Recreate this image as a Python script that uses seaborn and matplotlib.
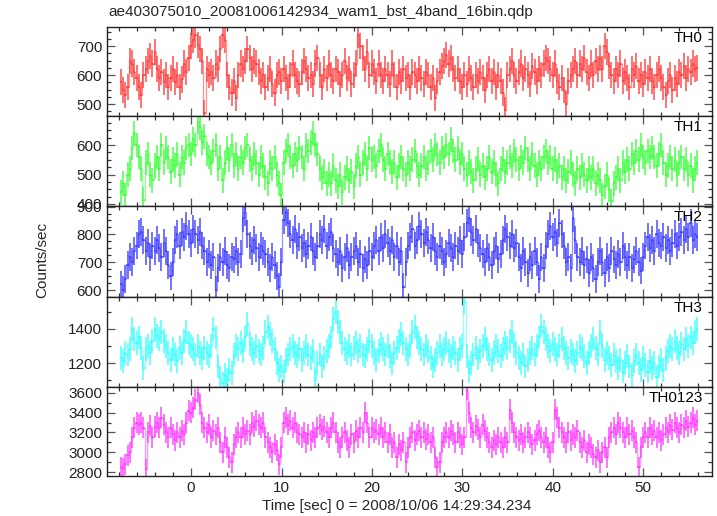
import numpy as np
import pandas as pd
import matplotlib
matplotlib.use("Agg")
import matplotlib.pyplot as plt
import seaborn as sns
from matplotlib.ticker import MultipleLocator

# ---------------- data ----------------
t_start = -7.9          # left edge of the first bin [sec]
bin_width = 0.25        # bin width [sec]

title = "ae403075010_20081006142934_wam1_bst_4band_16bin.qdp"
panel_names = ["TH0", "TH1", "TH2", "TH3", "TH0123"]
x_label = "Time [sec] 0 = 2008/10/06 14:29:34.234"
y_label = "Counts/sec"

th0 = [575, 548, 530, 560, 650, 640, 610, 590, 560, 530, 600, 620, 650, 665, 640, 680,
       620, 590, 610, 575, 600, 560, 590, 620, 575, 600, 560, 585, 640, 610, 660, 700,
       720, 740, 705, 690, 650, 470, 620, 600, 610, 590, 640, 620, 690, 740, 720, 600,
       560, 540, 580, 520, 600, 640, 620, 650, 690, 660, 620, 650, 640, 610, 580, 600,
       560, 590, 620, 570, 540, 600, 610, 580, 620, 590, 560, 600, 640, 600, 580, 570,
       610, 650, 620, 590, 600, 570, 640, 660, 600, 560, 620, 590, 640, 600, 580, 620,
       610, 570, 600, 650, 590, 620, 570, 600, 640, 740, 700, 660, 620, 680, 600, 640,
       610, 580, 640, 600, 580, 620, 600, 570, 640, 600, 560, 610, 580, 620, 590, 600,
       560, 610, 600, 580, 620, 590, 570, 610, 600, 560, 590, 520, 580, 610, 630, 650,
       670, 640, 660, 620, 590, 620, 580, 560, 600, 570, 620, 590, 560, 600, 580, 610,
       590, 550, 600, 620, 580, 610, 560, 600, 580, 540, 480, 600, 620, 650, 600, 580,
       610, 640, 590, 620, 600, 570, 630, 610, 580, 620, 600, 640, 660, 650, 620, 600,
       640, 580, 560, 590, 550, 500, 580, 600, 620, 650, 600, 640, 620, 660, 610, 590,
       640, 600, 650, 620, 660, 620, 700, 680, 630, 600, 580, 620, 600, 640, 580, 610,
       590, 560, 620, 600, 630, 580, 600, 570, 610, 590, 620, 580, 560, 600, 620, 590,
       560, 530, 580, 600, 550, 590, 570, 610, 600, 630, 590, 620, 610, 640, 620, 625]

th1 = [440, 470, 430, 500, 520, 590, 640, 600, 560, 520, 415, 540, 570, 500, 480, 530,
       560, 520, 600, 540, 590, 560, 510, 550, 530, 570, 500, 560, 540, 590, 600, 570,
       620, 600, 680, 660, 610, 630, 570, 560, 540, 580, 600, 520, 560, 480, 540, 590,
       550, 600, 530, 570, 520, 560, 540, 590, 600, 550, 520, 570, 540, 500, 560, 530,
       490, 470, 540, 520, 560, 500, 470, 430, 540, 580, 600, 560, 530, 570, 550, 590,
       560, 520, 600, 580, 610, 640, 600, 570, 520, 490, 510, 470, 500, 470, 530, 480,
       460, 500, 440, 490, 520, 480, 510, 460, 530, 560, 500, 540, 570, 520, 590, 550,
       560, 530, 580, 600, 550, 520, 570, 540, 510, 540, 490, 530, 560, 520, 500, 540,
       520, 550, 580, 530, 500, 530, 560, 520, 540, 580, 550, 600, 570, 540, 590, 560,
       600, 570, 620, 580, 550, 590, 540, 570, 520, 500, 540, 510, 480, 520, 550, 500,
       530, 490, 520, 560, 510, 540, 500, 470, 520, 550, 510, 540, 560, 530, 580, 550,
       520, 560, 540, 590, 550, 520, 570, 530, 500, 540, 520, 560, 580, 540, 560, 520,
       550, 510, 530, 490, 520, 480, 510, 540, 500, 470, 520, 490, 530, 500, 480, 520,
       490, 520, 470, 500, 480, 430, 460, 500, 450, 410, 470, 490, 520, 480, 540, 510,
       550, 520, 570, 540, 580, 550, 600, 560, 540, 580, 560, 590, 560, 530, 570, 600,
       540, 500, 530, 560, 520, 550, 500, 540, 560, 520, 550, 500, 530, 480, 520, 540]

th2 = [620, 600, 640, 690, 720, 700, 740, 760, 800, 810, 780, 740, 770, 720, 760, 740,
       780, 750, 720, 770, 740, 690, 650, 700, 780, 800, 760, 810, 790, 830, 800, 770,
       820, 800, 780, 810, 760, 740, 700, 730, 690, 720, 600, 680, 720, 700, 740, 690,
       680, 720, 710, 740, 700, 730, 860, 880, 800, 760, 740, 780, 750, 720, 760, 740,
       730, 700, 680, 720, 690, 650, 610, 700, 850, 880, 840, 800, 780, 820, 760, 790,
       750, 770, 730, 760, 790, 740, 720, 760, 800, 780, 820, 760, 790, 810, 750, 730,
       700, 740, 680, 720, 750, 690, 720, 740, 760, 700, 730, 680, 710, 690, 740, 720,
       760, 780, 740, 790, 750, 800, 770, 740, 780, 720, 760, 700, 740, 610, 700, 760,
       790, 820, 760, 780, 830, 800, 770, 810, 780, 750, 790, 740, 720, 760, 740, 700,
       730, 770, 750, 720, 760, 740, 780, 730, 790, 840, 860, 810, 780, 820, 770, 750,
       730, 700, 750, 720, 690, 740, 760, 710, 730, 780, 820, 790, 760, 800, 750, 770,
       720, 680, 740, 700, 660, 720, 690, 740, 700, 640, 720, 680, 760, 800, 830, 790,
       810, 770, 840, 800, 760, 700, 720, 680, 860, 780, 720, 700, 740, 690, 710, 660,
       720, 680, 640, 700, 740, 700, 660, 720, 680, 740, 710, 690, 730, 700, 760, 720,
       690, 720, 680, 710, 740, 700, 670, 720, 760, 790, 750, 780, 740, 800, 770, 760,
       790, 750, 780, 740, 770, 800, 760, 790, 810, 780, 820, 790, 840, 780, 800, 790]

th3 = [1230, 1210, 1260, 1250, 1280, 1400, 1340, 1320, 1350, 1290, 1170, 1280, 1300, 1260, 1330, 1400,
       1360, 1340, 1380, 1330, 1300, 1260, 1220, 1280, 1250, 1210, 1290, 1260, 1330, 1380, 1320, 1300,
       1280, 1250, 1300, 1260, 1230, 1290, 1260, 1240, 1300, 1400, 1350, 1180, 1110, 1080, 1130, 1100,
       1160, 1140, 1250, 1300, 1280, 1320, 1270, 1350, 1430, 1310, 1280, 1260, 1300, 1270, 1250, 1290,
       1380, 1410, 1370, 1330, 1280, 1200, 1160, 1180, 1150, 1220, 1250, 1280, 1300, 1260, 1240, 1280,
       1220, 1260, 1300, 1250, 1230, 1270, 1100, 1200, 1250, 1180, 1230, 1270, 1300, 1350, 1460, 1500,
       1440, 1380, 1320, 1280, 1260, 1300, 1250, 1290, 1320, 1270, 1300, 1250, 1240, 1280, 1330, 1300,
       1260, 1220, 1270, 1310, 1280, 1250, 1300, 1240, 1200, 1260, 1290, 1330, 1370, 1320, 1280, 1250,
       1300, 1380, 1410, 1350, 1320, 1280, 1250, 1300, 1270, 1230, 1180, 1220, 1260, 1300, 1250, 1280,
       1320, 1270, 1240, 1290, 1260, 1220, 1280, 1300, 1560, 1240, 1150, 1200, 1250, 1290, 1230, 1270,
       1300, 1340, 1280, 1250, 1220, 1260, 1300, 1270, 1240, 1280, 1320, 1290, 1330, 1380, 1300, 1260,
       1230, 1200, 1250, 1180, 1220, 1260, 1290, 1250, 1300, 1350, 1420, 1380, 1340, 1300, 1270, 1310,
       1280, 1250, 1300, 1340, 1290, 1260, 1230, 1270, 1250, 1210, 1260, 1300, 1280, 1240, 1200, 1260,
       1300, 1340, 1290, 1250, 1380, 1300, 1220, 1260, 1230, 1190, 1250, 1210, 1170, 1220, 1150, 1200,
       1240, 1180, 1130, 1210, 1250, 1200, 1160, 1230, 1190, 1150, 1210, 1170, 1200, 1120, 1180, 1220,
       1160, 1230, 1270, 1300, 1280, 1330, 1290, 1260, 1310, 1280, 1340, 1300, 1350, 1320, 1380, 1400]

th0123 = [2850, 2840, 2880, 2970, 3000, 3150, 3250, 3300, 3280, 3300, 3250, 2830, 3200, 3270, 3150, 3260,
          3300, 3250, 3350, 3280, 3200, 3150, 3250, 3180, 3120, 3200, 3150, 3220, 3180, 3300, 3420, 3400,
          3450, 3530, 3600, 3480, 3300, 3250, 3200, 3280, 3150, 3220, 3180, 3250, 3100, 3000, 3150, 3050,
          2950, 2900, 3080, 3150, 3200, 3150, 3250, 3180, 3220, 3180, 3300, 3260, 3320, 3280, 3250, 3300,
          3150, 3100, 3050, 3000, 3080, 3020, 2880, 3050, 3300, 3350, 3280, 3320, 3250, 3300, 3200, 3180,
          3150, 3200, 3100, 3180, 3120, 3200, 3150, 3250, 3280, 3230, 3260, 3200, 3150, 3250, 3300, 3200,
          3100, 3050, 3150, 3200, 3120, 3050, 3180, 3100, 3220, 3150, 3250, 3200, 3400, 3300, 3150, 3250,
          3200, 3230, 3180, 3250, 3150, 3200, 3100, 3180, 3050, 3100, 2950, 3080, 3020, 3100, 2900, 3050,
          3150, 3200, 3120, 3180, 3220, 3150, 3200, 3130, 3180, 3100, 3150, 2950, 2850, 2900, 3100, 3150,
          3200, 3150, 3220, 3180, 3100, 3200, 3150, 3080, 3150, 3630, 3400, 3250, 3200, 3270, 3230, 3150,
          3280, 3220, 3150, 3100, 3050, 3120, 3080, 3150, 3100, 3050, 3150, 3100, 3430, 3300, 3200, 3150,
          3120, 3180, 3100, 3150, 3200, 3150, 3080, 3120, 3180, 3220, 3150, 3100, 3150, 3050, 3000, 3100,
          3430, 3350, 3250, 3200, 3150, 3100, 3200, 3120, 3180, 3150, 3220, 3100, 3050, 3120, 3000, 3080,
          3050, 2980, 2950, 3020, 2900, 3000, 3050, 2950, 3150, 3200, 3250, 3180, 3300, 3250, 3200, 3150,
          3250, 3180, 3220, 3150, 3100, 2850, 3050, 3150, 3200, 3150, 3250, 3180, 3220, 3150, 3200, 3120,
          3180, 3250, 3200, 3280, 3230, 3300, 3250, 3200, 3280, 3250, 3320, 3260, 3300, 3350, 3280, 3320]

series = [th0, th1, th2, th3, th0123]
errors = [45, 42, 50, 70, 105]                         # 1-sigma half-lengths of the error bars
colors = ["#ff3a3a", "#3aff3a", "#3a3aff", "#3affff", "#ff3aff"]
ylims = [(459, 766), (393, 699), (575, 902), (1059, 1588), (2760, 3660)]
y_major = [100, 100, 100, 200, 200]
y_minor = [25, 25, 25, 100, 100]

# ---------------- figure ----------------
sns.set_theme(style="ticks")
plt.rcParams['font.family'] = ['Liberation Sans', 'DejaVu Sans']

W, H = 717, 516
fig = plt.figure(figsize=(W / 100, H / 100), dpi=100)

left_px, right_px = 107, 712
edges_px = [27, 116, 206, 297, 387, 476]

for i, (name, vals) in enumerate(zip(panel_names, series)):
    top_px, bot_px = edges_px[i], edges_px[i + 1]
    ax = fig.add_axes([left_px / W, 1 - bot_px / H,
                       (right_px - left_px) / W, (bot_px - top_px) / H])
    n = len(vals)
    t = t_start + bin_width * (np.arange(n) + 0.5)
    df = pd.DataFrame({"time": t, "rate": vals})

    sns.lineplot(data=df, x="time", y="rate", drawstyle="steps-mid",
                 color=colors[i], lw=0.9, alpha=0.55, ax=ax)
    ax.errorbar(df["time"], df["rate"], xerr=bin_width / 2, yerr=errors[i],
                fmt="none", ecolor=colors[i], elinewidth=1.1, capsize=0, alpha=0.9)

    ax.set_xlim(-9.3, 57.6)
    ax.set_ylim(*ylims[i])
    ax.xaxis.set_major_locator(MultipleLocator(10))
    ax.xaxis.set_minor_locator(MultipleLocator(2))
    ax.yaxis.set_major_locator(MultipleLocator(y_major[i]))
    ax.yaxis.set_minor_locator(MultipleLocator(y_minor[i]))
    ax.tick_params(which="both", direction="in", top=True, right=True,
                   labelsize=11, colors="#222222", width=0.9)
    ax.tick_params(which="major", length=6, color="#555555")
    ax.tick_params(which="minor", length=3, color="#333333")
    ax.set_xlabel("")
    ax.set_ylabel("")
    if i < 4:
        ax.tick_params(labelbottom=False)
    for sp in ax.spines.values():
        sp.set_linewidth(1.0)
        sp.set_color("#222222")
        sp.set_visible(True)
    ax.text(0.985, 0.955, name, ha="right", va="top", transform=ax.transAxes,
            fontsize=11, color="black")

fig.text(108 / W, 1 - 12 / H, title, ha="left", va="center", fontsize=11)
fig.text(42 / W, 1 - 260 / H, y_label, ha="center", va="center", rotation=90, fontsize=11)
fig.text(397 / W, 1 - 506 / H, x_label, ha="center", va="center", fontsize=11)

fig.savefig("out.png", dpi=100, facecolor="white")
